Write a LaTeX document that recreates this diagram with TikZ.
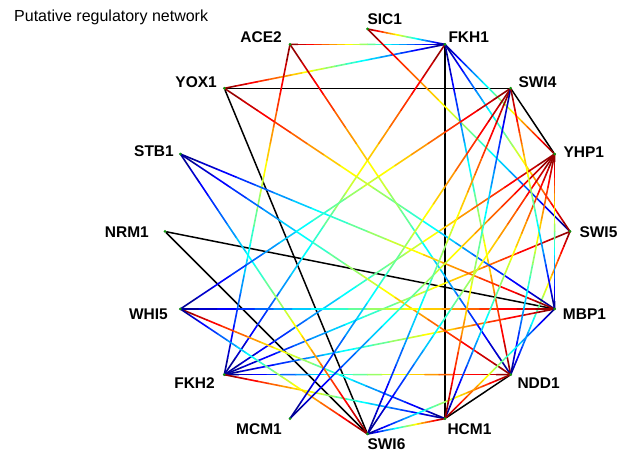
\documentclass[tikz,border=0pt]{standalone}
\usepackage{fontspec}
\setmainfont{Liberation Sans}
\usetikzlibrary{calc,backgrounds}
\tikzset{
  vdot/.style={circle,fill=dotgreen,inner sep=0pt,minimum size=3pt},
  jetline/.style={line width=1.6pt,line cap=round},
  blackline/.style={line width=1.5pt,draw=black,line cap=round},
  lbl/.style={inner sep=0pt,font=\fontsize{15.5}{18}\selectfont\bfseries},
}
\definecolor{dotgreen}{rgb}{0.05,0.6,0.05}
\newcommand{\jetedge}[2]{%
  \foreach \k in {1,...,20}{%
    \pgfmathsetmacro{\jt}{(\k-0.5)/20}%
    \pgfmathsetmacro{\jr}{max(0,min(1,1.5-abs(4*\jt-3)))}%
    \pgfmathsetmacro{\jg}{max(0,min(1,1.5-abs(4*\jt-2)))}%
    \pgfmathsetmacro{\jb}{max(0,min(1,1.5-abs(4*\jt-1)))}%
    \definecolor{jetc}{rgb}{\jr,\jg,\jb}%
    \pgfmathsetmacro{\ja}{(\k-1)/20}%
    \pgfmathsetmacro{\jz}{\k/20}%
    \draw[jetline,draw=jetc] ($(#1)!\ja!(#2)$) -- ($(#1)!\jz!(#2)$);%
  }}
\begin{document}
\begin{tikzpicture}[x=1pt,y=1pt]
\useasboundingbox (0,0) rectangle (619,452);
\coordinate (C) at (367.5,220.5);
\foreach \nm/\ang in {SIC1/90,FKH1/67.5,SWI4/45,YHP1/22.5,SWI5/0,MBP1/-22.5,NDD1/-45,HCM1/-67.5,SWI6/-90,MCM1/-112.5,FKH2/-135,WHI5/-157.5,NRM1/180,STB1/157.5,YOX1/135,ACE2/112.5}
  {\node[vdot] (\nm) at ($(C)+(\ang:202.5)$) {};}

\begin{pgfonlayer}{background}
\fill[white] (0,0) rectangle (619,452);
% black connectors
\draw[blackline] (YOX1) -- (SWI4);
\draw[blackline] (FKH1) -- (HCM1);
\draw[blackline] (SWI4) -- (YHP1);
\draw[blackline] (NRM1) -- (MBP1);
\draw[blackline] (NRM1) -- (SWI6);
\draw[blackline] (YOX1) -- (SWI6);
\draw[blackline] (HCM1) -- (NDD1);
% coloured connectors: blue end first, red end second
\jetedge{FKH1}{SIC1}
\jetedge{FKH1}{ACE2}
\jetedge{FKH1}{YOX1}
\jetedge{SWI5}{SIC1}
\jetedge{FKH2}{FKH1}
\jetedge{FKH1}{NDD1}
\jetedge{FKH1}{YHP1}
\jetedge{FKH1}{SWI5}
\jetedge{FKH2}{SWI5}
\jetedge{NDD1}{SWI5}
\jetedge{FKH2}{YHP1}
\jetedge{FKH2}{MBP1}
\jetedge{FKH2}{NDD1}
\jetedge{FKH2}{ACE2}
\jetedge{HCM1}{FKH2}
\jetedge{HCM1}{WHI5}
\jetedge{MBP1}{YOX1}
\jetedge{NDD1}{ACE2}
\jetedge{STB1}{MBP1}
\jetedge{STB1}{NDD1}
\jetedge{STB1}{SWI6}
\jetedge{WHI5}{SWI4}
\jetedge{WHI5}{MBP1}
\jetedge{WHI5}{SWI6}
\jetedge{MCM1}{SWI4}
\jetedge{MCM1}{YHP1}
\jetedge{SWI6}{SWI4}
\jetedge{SWI6}{YHP1}
\jetedge{SWI6}{HCM1}
\jetedge{SWI6}{NDD1}
\jetedge{HCM1}{YHP1}
\jetedge{NDD1}{YHP1}
\jetedge{MBP1}{YHP1}
\jetedge{SWI4}{HCM1}
\jetedge{MBP1}{SWI4}
\jetedge{MBP1}{HCM1}
\end{pgfonlayer}

% labels
\node[lbl,anchor=base east] (ACE2l) at (282,409.3) {ACE2};
\node[lbl,anchor=base east] (YOX1l) at (217,364) {YOX1};
\node[lbl,anchor=base east] (STB1l) at (174,295) {STB1};
\node[lbl,anchor=base east] (NRM1l) at (149,214) {NRM1};
\node[lbl,anchor=base east] (WHI5l) at (168,132) {WHI5};
\node[lbl,anchor=base east] (FKH2l) at (215,63.3) {FKH2};
\node[lbl,anchor=base east] (MCM1l) at (282,17.7) {MCM1};
\node[lbl,anchor=base west] (SWI6l) at (367.3,2.7) {SWI6};
\node[lbl,anchor=base west] (HCM1l) at (447.3,17.7) {HCM1};
\node[lbl,anchor=base west] (NDD1l) at (517.3,63.3) {NDD1};
\node[lbl,anchor=base west] (MBP1l) at (562.7,132) {MBP1};
\node[lbl,anchor=base west] (SWI5l) at (579.3,214.3) {SWI5};
\node[lbl,anchor=base west] (YHP1l) at (563.3,294.7) {YHP1};
\node[lbl,anchor=base west] (SWI4l) at (518.3,364.7) {SWI4};
\node[lbl,anchor=base west] (FKH1l) at (448.3,409.3) {FKH1};
\node[lbl,anchor=base west] (SIC1l) at (367.3,427) {SIC1};
\node[inner sep=0pt,anchor=base west,font=\fontsize{16}{19}\selectfont] (title) at (14,430.3) {Putative regulatory network};
\end{tikzpicture}
\end{document}
